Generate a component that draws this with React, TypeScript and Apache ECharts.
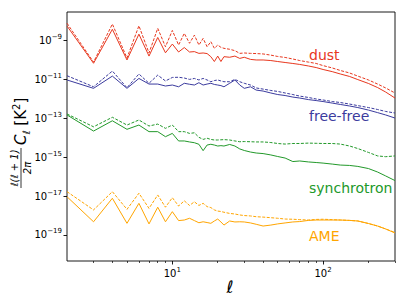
import { useEffect, useRef } from 'react';
import * as echarts from 'echarts';

// multipole moments (ℓ)
const ells = [
  2, 3, 4, 5, 6, 7, 8, 9, 10, 11, 12,
  13, 14, 15, 16, 17, 18, 19, 20, 21, 22, 24,
  26, 28, 30, 33, 36, 40, 45, 50, 56, 63, 70,
  80, 90, 100, 115, 130, 150, 170, 200, 230, 260, 300,
];

// log10 of ℓ(ℓ+1)C_ℓ/2π [K^2]
const dustSolid = [
  -8.24, -10.16, -8.41, -9.99, -8.66, -9.79, -8.83, -9.62, -9.17, -9.58, -9.35,
  -9.58, -9.56, -9.65, -9.63, -9.66, -9.82, -10.07, -9.79, -10.07, -9.82, -9.85,
  -9.79, -9.91, -9.85, -9.96, -9.99, -9.99, -10.02, -10.07, -10.12, -10.17, -10.22,
  -10.30, -10.38, -10.48, -10.59, -10.71, -10.84, -11.00, -11.20, -11.41, -11.64, -11.95,
];
const dustDashed = [
  -8.10, -10.10, -8.14, -9.89, -8.23, -9.63, -8.36, -9.31, -8.47, -9.22, -8.62,
  -9.13, -8.71, -9.22, -8.88, -9.31, -9.05, -9.39, -9.22, -9.34, -9.39, -9.44,
  -9.51, -9.65, -9.63, -9.65, -9.66, -9.68, -9.74, -9.81, -9.86, -9.94, -10.02,
  -10.10, -10.17, -10.28, -10.40, -10.53, -10.66, -10.82, -11.02, -11.23, -11.43, -11.69,
];
const freeSolid = [
  -11.02, -11.45, -10.82, -11.45, -10.94, -11.23, -11.23, -11.33, -11.28, -11.37, -11.19,
  -11.24, -11.28, -11.16, -11.28, -11.23, -11.19, -11.25, -11.28, -11.31, -11.37, -11.19,
  -11.02, -11.28, -11.45, -11.37, -11.54, -11.59, -11.69, -11.77, -11.82, -11.90, -11.95,
  -12.03, -12.08, -12.13, -12.21, -12.28, -12.36, -12.44, -12.57, -12.70, -12.82, -12.98,
];
const freeDashed = [
  -10.80, -11.37, -10.56, -11.42, -10.71, -11.19, -10.77, -11.07, -10.89, -10.88, -10.92,
  -10.99, -10.94, -11.02, -10.94, -11.02, -11.11, -11.05, -11.02, -11.07, -11.11, -11.11,
  -10.99, -11.11, -11.19, -11.28, -11.43, -11.49, -11.56, -11.61, -11.69, -11.77, -11.85,
  -11.92, -12.00, -12.05, -12.13, -12.18, -12.26, -12.34, -12.44, -12.54, -12.64, -12.72,
];
const synchSolid = [
  -12.82, -13.65, -13.12, -13.56, -13.34, -13.68, -13.68, -13.94, -13.77, -14.16, -14.16,
  -14.21, -14.25, -14.33, -14.66, -14.37, -14.33, -14.37, -14.42, -14.40, -14.42, -14.34,
  -14.42, -14.57, -14.65, -14.73, -14.78, -14.81, -14.88, -14.96, -15.04, -15.22, -15.19,
  -15.24, -15.27, -15.30, -15.35, -15.40, -15.42, -15.47, -15.58, -15.76, -15.96, -16.20,
];
const synchDashed = [
  -12.77, -13.43, -12.94, -13.34, -13.08, -13.39, -13.29, -13.51, -13.34, -13.68, -13.68,
  -13.77, -13.74, -13.97, -14.08, -14.02, -14.08, -14.11, -14.11, -14.10, -14.09, -14.11,
  -14.16, -14.20, -14.19, -14.20, -14.21, -14.21, -14.24, -14.29, -14.32, -14.29, -14.29,
  -14.27, -14.28, -14.29, -14.29, -14.32, -14.42, -14.55, -14.75, -14.93, -14.97, -14.93,
];
const ameSolid = [
  -17.03, -18.32, -17.11, -18.40, -17.37, -18.43, -17.57, -18.32, -17.80, -18.26, -18.23,
  -18.14, -18.26, -18.37, -18.32, -18.36, -18.40, -18.28, -18.18, -18.33, -18.49, -18.28,
  -18.33, -18.32, -18.33, -18.38, -18.45, -18.54, -18.49, -18.43, -18.38, -18.33, -18.31,
  -18.25, -18.23, -18.23, -18.23, -18.23, -18.25, -18.28, -18.41, -18.54, -18.69, -18.90,
];
const ameDashed = [
  -16.77, -17.71, -16.77, -17.68, -16.85, -17.63, -16.94, -17.57, -17.08, -17.51, -17.24,
  -17.48, -17.29, -17.48, -17.37, -17.54, -17.59, -17.71, -17.77, -17.79, -17.83, -17.89,
  -17.92, -17.97, -18.00, -18.02, -18.06, -18.08, -18.11, -18.14, -18.18, -18.19, -18.21,
  -18.23, -18.20, -18.19, -18.21, -18.23, -18.25, -18.28, -18.41, -18.54, -18.69, -18.87,
];

const componentNames = ['dust', 'free-free', 'synchrotron', 'AME'];
const xMajorTicks = [10, 100];
const xMinorTicks = [3, 4, 5, 6, 7, 8, 9, 20, 30, 40, 50, 60, 70, 80, 90, 200, 300];
const yTickExponents = [-19, -17, -15, -13, -11, -9];
const ellMin = 2;
const ellMax = 300;
const yLogMin = -20.34;
const yLogMax = -7.52;

const COLORS = ['#e8371e', '#3b3b9e', '#22992a', '#ffa500'];
const FONT = 'DejaVu Sans';

export default function App() {
  const ref = useRef<HTMLDivElement>(null);
  useEffect(() => {
    document.body.style.margin = '0';
    const chart = echarts.init(ref.current!, null, { renderer: 'svg' });
    const toData = (arr: number[]) => ells.map((l, i) => [Math.log10(l), arr[i]]);
    const pairs: [number[], number[]][] = [
      [dustSolid, dustDashed],
      [freeSolid, freeDashed],
      [synchSolid, synchDashed],
      [ameSolid, ameDashed],
    ];
    const series: any[] = [];
    pairs.forEach(([s, d], k) => {
      series.push({
        type: 'line', name: componentNames[k] + ' solid', data: toData(s), showSymbol: false, symbol: 'none',
        lineStyle: { color: COLORS[k], width: 1 }, xAxisIndex: 0, yAxisIndex: 0,
      });
      series.push({
        type: 'line', name: componentNames[k] + ' dashed', data: toData(d), showSymbol: false, symbol: 'none',
        lineStyle: { color: COLORS[k], width: 1, type: [3, 1.5] }, xAxisIndex: 0, yAxisIndex: 0,
      });
    });
    const supRich = {
      b: { fontSize: 10, fontFamily: FONT, color: '#000', lineHeight: 14 },
      s: { fontSize: 7, fontFamily: FONT, color: '#000', verticalAlign: 'top', lineHeight: 9 },
    };
    const labelY = [55, 116, 188, 236];
    const option: any = {
      animation: false,
      grid: { left: 67, top: 12, right: 12, bottom: 44, show: true, borderColor: '#000', borderWidth: 0.9, outerBoundsMode: 'none', containLabel: false },
      xAxis: [
        {
          type: 'value', min: Math.log10(ellMin), max: Math.log10(ellMax), position: 'bottom',
          axisLine: { show: false }, splitLine: { show: false },
          axisTick: { show: true, length: 3.5, lineStyle: { color: '#000', width: 0.9 }, customValues: xMajorTicks.map(Math.log10) },
          axisLabel: {
            show: true, margin: 5, customValues: xMajorTicks.map(Math.log10),
            formatter: (v: number) => `{b|10}{s|${Math.round(v)}}`, rich: supRich,
          },
        },
        {
          type: 'value', min: Math.log10(ellMin), max: Math.log10(ellMax), position: 'bottom',
          axisLine: { show: false }, splitLine: { show: false },
          axisTick: { show: true, length: 2, lineStyle: { color: '#000', width: 0.7 }, customValues: xMinorTicks.map(Math.log10) },
          axisLabel: { show: false },
        },
      ],
      yAxis: {
        type: 'value', min: yLogMin, max: yLogMax,
        axisLine: { show: false }, splitLine: { show: false },
        axisTick: { show: true, length: 3.5, lineStyle: { color: '#000', width: 0.9 }, customValues: yTickExponents },
        axisLabel: {
          show: true, margin: 5, customValues: yTickExponents,
          formatter: (v: number) => `{b|10}{s|\u2212${Math.abs(Math.round(v))}}`, rich: supRich,
        },
      },
      series,
      graphic: [
        ...componentNames.map((n, k) => ({
          type: 'text', x: 309, y: labelY[k], silent: true,
          style: { text: n, fontSize: 14, fontFamily: FONT, fill: COLORS[k], align: 'left', verticalAlign: 'middle', textAlign: 'left', textVerticalAlign: 'middle' },
        })),
        {
          type: 'text', x: 230, y: 287,
          style: { text: 'ℓ', fontSize: 17, fontFamily: FONT, fontStyle: 'italic', fill: '#000', align: 'center', verticalAlign: 'middle', textAlign: 'center', textVerticalAlign: 'middle' },
        },
        {
          type: 'group', x: 21, y: 140, rotation: Math.PI / 2,
          children: [
            {
              type: 'text', x: -28, y: -6.5,
              style: { text: 'ℓ(ℓ + 1)', fontSize: 10, fontFamily: FONT, fontStyle: 'italic', fill: '#000', align: 'center', verticalAlign: 'middle', textAlign: 'center', textVerticalAlign: 'middle' },
            },
            { type: 'line', shape: { x1: -48, y1: 0, x2: -8, y2: 0 }, style: { stroke: '#000', lineWidth: 0.8 } },
            {
              type: 'text', x: -28, y: 6.5,
              style: { text: '2π', fontSize: 10, fontFamily: FONT, fontStyle: 'italic', fill: '#000', align: 'center', verticalAlign: 'middle', textAlign: 'center', textVerticalAlign: 'middle' },
            },
            {
              type: 'text', x: -5, y: 0,
              style: {
                text: '{ci|C}{sub|ℓ}{c| [K}{sup|2}{c|]}',
                align: 'left', verticalAlign: 'middle', textAlign: 'left', textVerticalAlign: 'middle',
                rich: {
                  ci: { fontSize: 15, fontFamily: FONT, fill: '#000', color: '#000', lineHeight: 20, fontStyle: 'italic' },
                  c: { fontSize: 15, fontFamily: FONT, fill: '#000', color: '#000', lineHeight: 20, fontStyle: 'normal' },
                  sub: { fontSize: 10, fontFamily: FONT, fill: '#000', color: '#000', fontStyle: 'italic', verticalAlign: 'bottom', lineHeight: 12 },
                  sup: { fontSize: 10, fontFamily: FONT, fill: '#000', color: '#000', verticalAlign: 'top', lineHeight: 12 },
                },
              },
            },
          ],
        },
      ],
    };
    chart.setOption(option);
    return () => chart.dispose();
  }, []);
  return <div ref={ref} style={{ width: 407, height: 305 }} />;
}
